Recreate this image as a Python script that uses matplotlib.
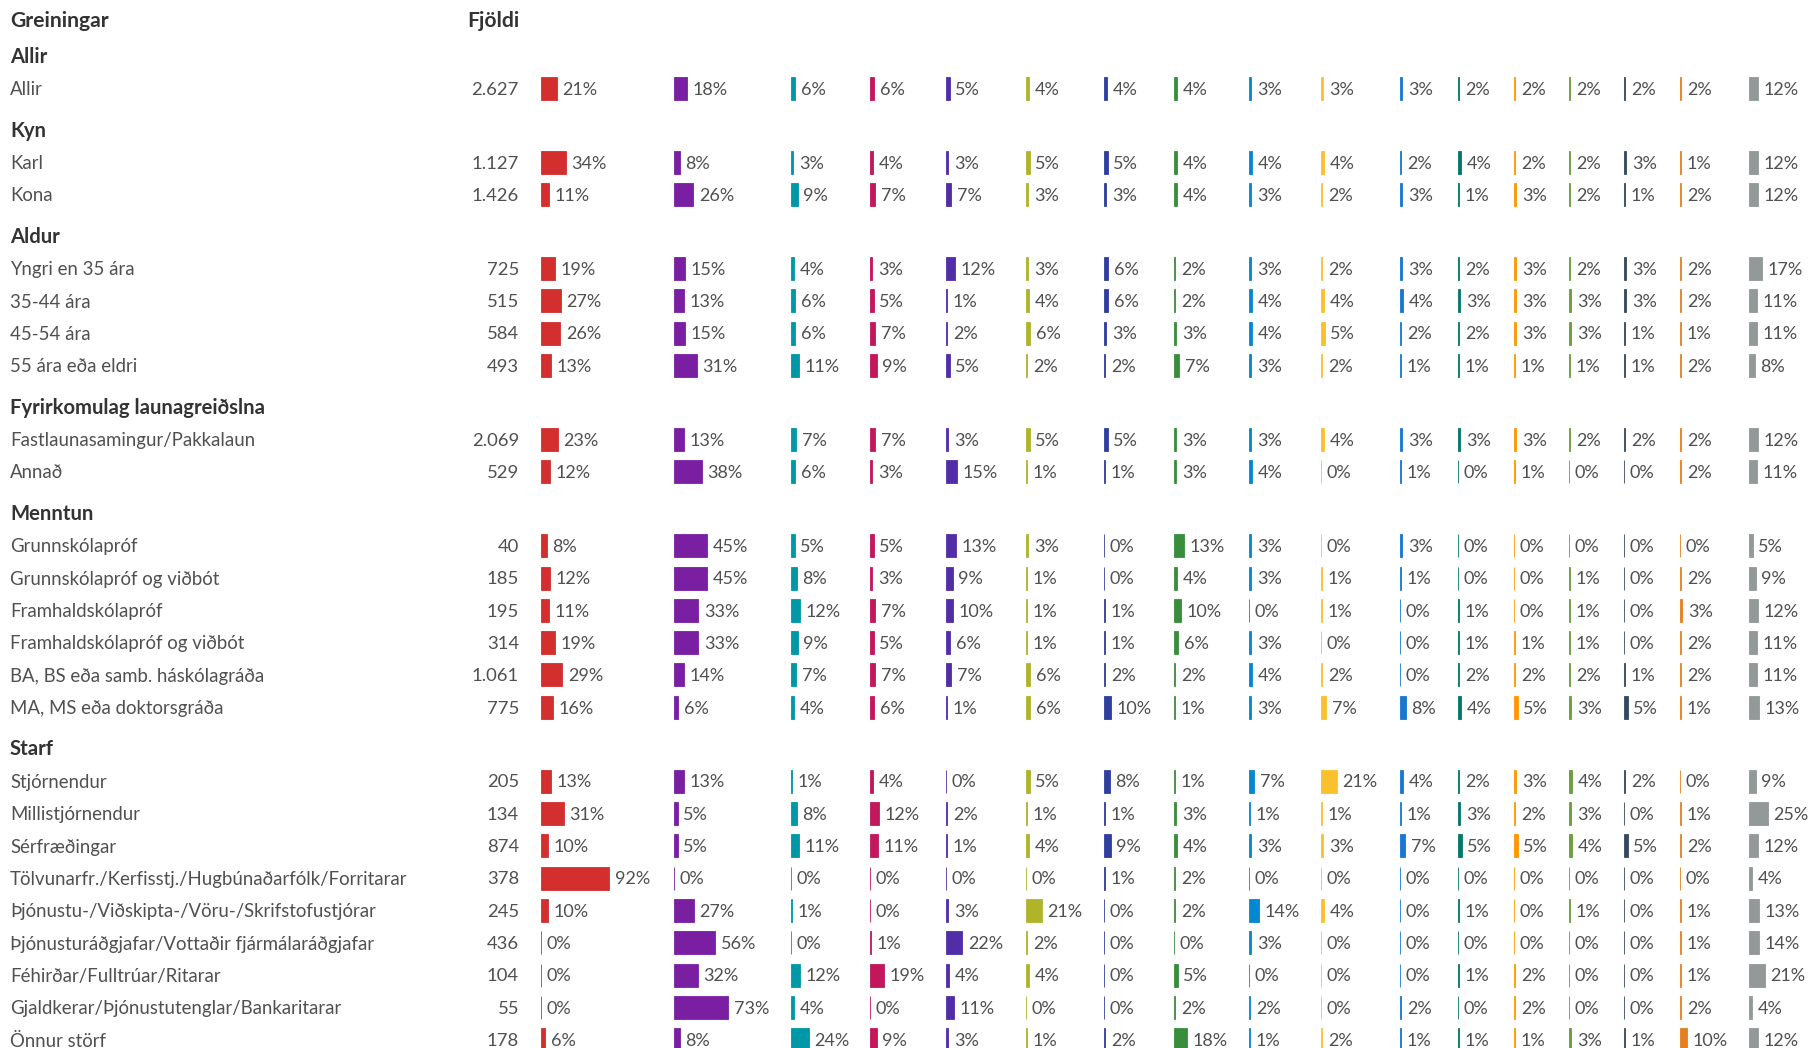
import matplotlib
matplotlib.use("Agg")
import matplotlib.pyplot as plt

plt.rcParams['font.family'] = ['Lato', 'DejaVu Sans']

# Data
sections = ['Allir', 'Kyn', 'Aldur', 'Fyrirkomulag launagreiðslna', 'Menntun', 'Starf']
section_sizes = [1, 2, 4, 2, 6, 9]

row_labels = [
    'Allir',
    'Karl', 'Kona',
    'Yngri en 35 ára', '35-44 ára', '45-54 ára', '55 ára eða eldri',
    'Fastlaunasamingur/Pakkalaun', 'Annað',
    'Grunnskólapróf', 'Grunnskólapróf og viðbót', 'Framhaldskólapróf',
    'Framhaldskólapróf og viðbót', 'BA, BS eða samb. háskólagráða', 'MA, MS eða doktorsgráða',
    'Stjórnendur', 'Millistjórnendur', 'Sérfræðingar',
    'Tölvunarfr./Kerfisstj./Hugbúnaðarfólk/Forritarar',
    'Þjónustu-/Viðskipta-/Vöru-/Skrifstofustjórar',
    'Þjónusturáðgjafar/Vottaðir fjármálaráðgjafar',
    'Féhirðar/Fulltrúar/Ritarar',
    'Gjaldkerar/Þjónustutenglar/Bankaritarar',
    'Önnur störf',
]

counts = [2627, 1127, 1426, 725, 515, 584, 493, 2069, 529,
          40, 185, 195, 314, 1061, 775,
          205, 134, 874, 378, 245, 436, 104, 55, 178]

# percentages per row, 17 answer columns (0.4 = shown as 0% with a hairline bar)
values = [
    [21, 18, 6, 6, 5, 4, 4, 4, 3, 3, 3, 2, 2, 2, 2, 2, 12],
    [34, 8, 3, 4, 3, 5, 5, 4, 4, 4, 2, 4, 2, 2, 3, 1, 12],
    [11, 26, 9, 7, 7, 3, 3, 4, 3, 2, 3, 1, 3, 2, 1, 2, 12],
    [19, 15, 4, 3, 12, 3, 6, 2, 3, 2, 3, 2, 3, 2, 3, 2, 17],
    [27, 13, 6, 5, 1, 4, 6, 2, 4, 4, 4, 3, 3, 3, 3, 2, 11],
    [26, 15, 6, 7, 2, 6, 3, 3, 4, 5, 2, 2, 3, 3, 1, 1, 11],
    [13, 31, 11, 9, 5, 2, 2, 7, 3, 2, 1, 1, 1, 1, 1, 2, 8],
    [23, 13, 7, 7, 3, 5, 5, 3, 3, 4, 3, 3, 3, 2, 2, 2, 12],
    [12, 38, 6, 3, 15, 1, 1, 3, 4, 0.4, 1, 0, 1, 0.4, 0.4, 2, 11],
    [8, 45, 5, 5, 13, 3, 0, 13, 3, 0, 3, 0, 0, 0, 0, 0, 5],
    [12, 45, 8, 3, 9, 1, 0, 4, 3, 1, 1, 0, 0, 1, 0, 2, 9],
    [11, 33, 12, 7, 10, 1, 1, 10, 0, 1, 0, 1, 0, 1, 0, 3, 12],
    [19, 33, 9, 5, 6, 1, 1, 6, 3, 0.4, 0.4, 1, 1, 1, 0.4, 2, 11],
    [29, 14, 7, 7, 7, 6, 2, 2, 4, 2, 0.4, 2, 2, 2, 1, 2, 11],
    [16, 6, 4, 6, 1, 6, 10, 1, 3, 7, 8, 4, 5, 3, 5, 1, 13],
    [13, 13, 1, 4, 0.4, 5, 8, 1, 7, 21, 4, 2, 3, 4, 2, 0, 9],
    [31, 5, 8, 12, 2, 1, 1, 3, 1, 1, 1, 3, 2, 3, 0, 1, 25],
    [10, 5, 11, 11, 1, 4, 9, 4, 3, 3, 7, 5, 5, 4, 5, 2, 12],
    [92, 0, 0.4, 0.4, 0, 0, 1, 2, 0, 0, 0, 0, 0.4, 0, 0, 0, 4],
    [10, 27, 1, 0.4, 3, 21, 0.4, 2, 14, 4, 0, 1, 0, 1, 0.4, 1, 13],
    [0.4, 56, 0.4, 1, 22, 2, 0, 0, 3, 0.4, 0, 0.4, 0, 0, 0, 1, 14],
    [0, 32, 12, 19, 4, 4, 0, 5, 0, 0, 0, 1, 2, 0, 0, 1, 21],
    [0, 73, 4, 0, 11, 0, 0, 2, 2, 0, 2, 0, 2, 0, 0, 2, 4],
    [6, 8, 24, 9, 3, 1, 2, 18, 1, 2, 1, 1, 1, 3, 1, 10, 12],
]

colors = ['#d32f2f', '#7b1fa2', '#0097a7', '#c2185b', '#512da8', '#afb42b',
          '#303f9f', '#388e3c', '#0288d1', '#fbc02d', '#1976d2', '#00796b',
          '#ff9800', '#689f38', '#34495e', '#e67e22', '#939899']

# Layout (pixels of the 1810x1048 canvas)
W, H = 1810, 1048
col_x = [541, 674, 791, 870, 946, 1026, 1104, 1174, 1249, 1321,
         1400, 1458, 1514, 1569, 1624, 1680, 1749]
px_per_pct = 0.74
row_step, hdr_before, hdr_after = 32.32, 40.9, 33.0
y_start = 55.5
txt_dy = 1.2
txt = '#505050'
hdr = '#333333'
fs_row = 13.4
fs_num = 13.3
fs_pct = 13.0
fs_top = 15.2
fs_sec = 14.6

fig = plt.figure(figsize=(W / 100, H / 100), dpi=100)
ax = fig.add_axes([0, 0, 1, 1])
ax.set_xlim(0, W)
ax.set_ylim(H, 0)
ax.axis('off')

ax.text(10, 21, 'Greiningar', fontsize=fs_top, fontweight='bold', color=hdr, va='center')
ax.text(519, 21, 'Fjöldi', fontsize=fs_top, fontweight='bold', color=hdr, va='center', ha='right')

# row positions
row_y = []
y = y_start
i = 0
for s, n in zip(sections, section_sizes):
    ax.text(10, y + txt_dy, s, fontsize=fs_sec, fontweight='bold', color=hdr, va='center')
    y += hdr_after
    for k in range(n):
        row_y.append(y)
        ax.text(10, y + txt_dy, row_labels[i], fontsize=fs_row, color=txt, va='center')
        ax.text(519, y + txt_dy, f'{counts[i]:,}'.replace(',', '.'), fontsize=fs_num,
                color=txt, va='center', ha='right')
        i += 1
        if k < n - 1:
            y += row_step
    y += hdr_before

# bar columns, one axes each
for c in range(17):
    w_px = 80
    bx = fig.add_axes([col_x[c] / W, 0, w_px / W, 1])
    bx.set_xlim(0, w_px / px_per_pct)
    bx.set_ylim(H, 0)
    bx.axis('off')
    bx.patch.set_visible(False)
    vals = [r[c] for r in values]
    bx.barh(row_y, vals, height=23, left=0, color=colors[c],
            edgecolor=colors[c], linewidth=0.6, clip_on=False)
    for yy, v in zip(row_y, vals):
        bx.annotate(f'{round(v)}%', (v, yy + txt_dy), xytext=(5.5, 0), textcoords='offset pixels',
                    fontsize=fs_pct, color=txt, va='center', ha='left', annotation_clip=False)

fig.savefig('out.png', dpi=100)
